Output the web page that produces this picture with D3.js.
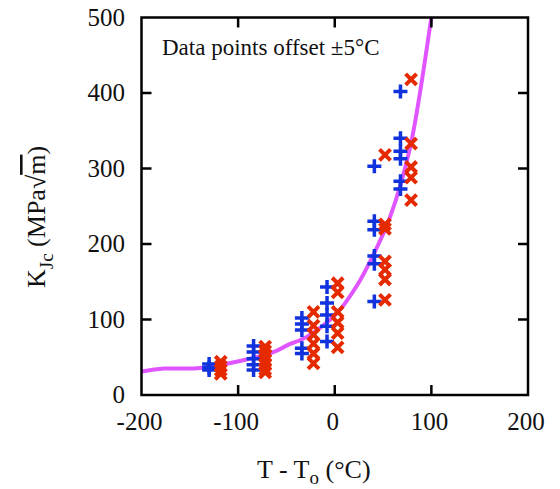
<!DOCTYPE html>
<html>
<head>
<meta charset="utf-8">
<script src="https://cdn.jsdelivr.net/npm/d3@7"></script>
<style>
  body { margin: 0; background: #fff; }
  text { font-family: "Liberation Serif", "DejaVu Serif", serif; fill: #111; }
</style>
</head>
<body>
<div id="chart"></div>
<script>
// blue "+" points
const blueT = [-130, -130, -130,
  -84, -84, -84, -84, -84,
  -34, -34, -34, -34, -34,
  -8, -8, -8, -8, -8,
  41, 41, 41, 41, 41, 41,
  68, 68, 68, 68, 68, 68];
const blueK = [41, 36, 33,
  65, 57, 48, 40, 33,
  102, 94, 86, 62, 55,
  143, 122, 106, 91, 71,
  303, 230, 219, 184, 174, 124,
  402, 340, 323, 313, 283, 273];

// red "x" points
const redT = [-118, -118, -118, -118,
  -72, -72, -72, -72, -72, -72, -72,
  -22, -22, -22, -22, -22, -22,
  3, 3, 3, 3, 3, 3,
  52, 52, 52, 52, 52, 52, 52,
  79, 79, 79, 79, 79];
const redK = [44, 38, 33, 28,
  64, 58, 52, 46, 40, 34, 30,
  110, 92, 80, 68, 55, 42,
  148, 136, 110, 96, 82, 63,
  318, 226, 220, 177, 166, 153, 126,
  418, 333, 302, 288, 258];

// master curve
const curveT = [-200, -177, -142, -98, -63, -49, -29, 2, 23, 37, 57, 78, 100, 102];
const curveK = [31, 35, 35.5, 45, 57, 66, 77, 108, 145, 178, 235, 328, 500, 516];

const xTicks = [-200, -100, 0, 100, 200];
const yTicks = [0, 100, 200, 300, 400, 500];

const width = 560, height = 489;
const plotL = 141.5, plotR = 528, plotT = 17.5, plotB = 395;

const x = d3.scaleLinear().domain([-200, 200]).range([plotL, plotR]);
const y = d3.scaleLinear().domain([0, 500]).range([plotB, plotT]);

const svg = d3.select('#chart').append('svg')
    .attr('width', width)
    .attr('height', height);

svg.append('defs').append('clipPath').attr('id', 'plot')
  .append('rect')
    .attr('x', plotL).attr('y', plotT)
    .attr('width', plotR - plotL).attr('height', plotB - plotT);

// curve
const line = d3.line()
    .x(d => x(d[0]))
    .y(d => y(d[1]))
    .curve(d3.curveCatmullRom.alpha(0.5));

svg.append('path')
    .datum(d3.zip(curveT, curveK))
    .attr('clip-path', 'url(#plot)')
    .attr('fill', 'none')
    .attr('stroke', '#e055ff')
    .attr('stroke-width', 4)
    .attr('d', line);

// blue plus markers
const plus = 7;
svg.append('g')
    .attr('stroke', '#1133dd')
    .attr('stroke-width', 3.5)
  .selectAll('path')
  .data(d3.zip(blueT, blueK))
  .join('path')
    .attr('d', d => {
        const cx = x(d[0]), cy = y(d[1]);
        return `M${cx - plus},${cy}H${cx + plus}M${cx},${cy - plus}V${cy + plus}`;
    });

// red cross markers
const cross = 5.5;
svg.append('g')
    .attr('stroke', '#e62a00')
    .attr('stroke-width', 4)
  .selectAll('path')
  .data(d3.zip(redT, redK))
  .join('path')
    .attr('d', d => {
        const cx = x(d[0]), cy = y(d[1]);
        return `M${cx - cross},${cy - cross}L${cx + cross},${cy + cross}M${cx - cross},${cy + cross}L${cx + cross},${cy - cross}`;
    });

// frame and inward ticks on all four sides
const tickLen = 10;
const axes = svg.append('g').attr('stroke', '#000').attr('stroke-width', 2.5).attr('fill', 'none');
axes.append('rect')
    .attr('x', plotL).attr('y', plotT)
    .attr('width', plotR - plotL).attr('height', plotB - plotT);

xTicks.slice(1, -1).forEach(t => {
    axes.append('line').attr('x1', x(t)).attr('x2', x(t)).attr('y1', plotB).attr('y2', plotB - tickLen);
    axes.append('line').attr('x1', x(t)).attr('x2', x(t)).attr('y1', plotT).attr('y2', plotT + tickLen);
});
yTicks.slice(1, -1).forEach(t => {
    axes.append('line').attr('x1', plotL).attr('x2', plotL + tickLen).attr('y1', y(t)).attr('y2', y(t));
    axes.append('line').attr('x1', plotR).attr('x2', plotR - tickLen).attr('y1', y(t)).attr('y2', y(t));
});

// tick labels
svg.append('g').selectAll('text')
  .data(xTicks)
  .join('text')
    .attr('x', d => x(d) - 2)
    .attr('y', 430)
    .attr('text-anchor', 'middle')
    .style('font-size', '25px')
    .text(d => d);

svg.append('g').selectAll('text')
  .data(yTicks)
  .join('text')
    .attr('x', 125)
    .attr('y', d => y(d) + 8)
    .attr('text-anchor', 'end')
    .style('font-size', '25px')
    .text(d => d);

// note inside plot
svg.append('text')
    .attr('x', 162)
    .attr('y', 55)
    .style('font-size', '23px')
    .text('Data points offset \u00b15\u00b0C');

// x axis title
const xt = svg.append('text')
    .attr('x', 257)
    .attr('y', 478)
    .style('font-size', '26px');
xt.append('tspan').text('T - T');
xt.append('tspan').attr('dy', 6).style('font-size', '19px').text('o');
xt.append('tspan').attr('dy', -6).text(' (\u00b0C)');

// y axis title
const yt = svg.append('text')
    .attr('transform', 'translate(45,288) rotate(-90)')
    .style('font-size', '26px');
yt.append('tspan').text('K');
yt.append('tspan').attr('dy', 8).style('font-size', '19px').text('Jc');
yt.append('tspan').attr('dy', -8).text(' (MPa\u221a');
yt.append('tspan').style('text-decoration', 'overline').text('m');
yt.append('tspan').text(')');
</script>
</body>
</html>
